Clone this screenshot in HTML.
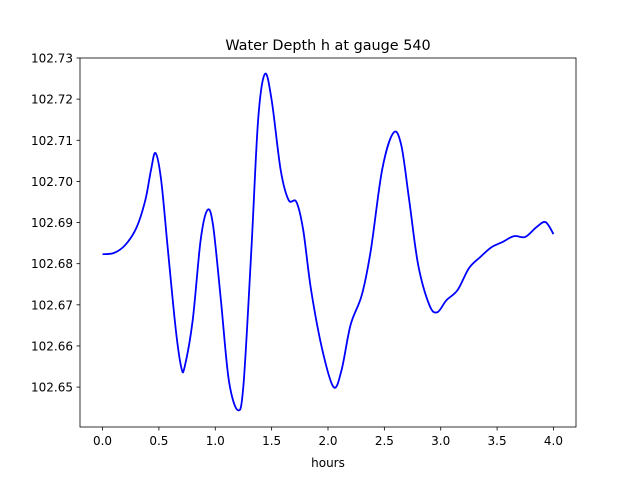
<!DOCTYPE html>
<html><head><meta charset="utf-8"><style>
body{margin:0;background:#fff}
svg text{font-family:"DejaVu Sans","Liberation Sans",sans-serif;fill:#000}
</style></head><body>
<svg id="chart" width="640" height="480" xmlns="http://www.w3.org/2000/svg">
<rect width="640" height="480" fill="#fff"/>
<text x="328" y="50" font-size="14.4" text-anchor="middle">Water Depth h at gauge 540</text>
<g id="ticks"></g>
<path id="series" fill="none" stroke="#0000ff" stroke-width="1.8"/>
<rect x="80" y="58" width="496" height="369" fill="none" stroke="#000" stroke-width="0.8"/>
<text x="328" y="467" font-size="12" text-anchor="middle">hours</text>
</svg>
<script>
const hours=[0,0.1,0.2,0.3,0.38,0.43,0.47,0.52,0.58,0.65,0.7,0.73,0.8,0.87,0.93,0.98,1.05,1.12,1.2,1.25,1.32,1.38,1.44,1.5,1.58,1.65,1.72,1.78,1.85,1.95,2.05,2.12,2.2,2.3,2.38,2.48,2.58,2.65,2.72,2.8,2.9,2.97,3.05,3.15,3.25,3.35,3.45,3.55,3.65,3.75,3.85,3.93,4.0];
const depth=[102.6823,102.6826,102.6845,102.6887,102.6955,102.7028,102.7069,102.7003,102.6833,102.6639,102.6546,102.6551,102.6663,102.6857,102.6930,102.6894,102.6711,102.6517,102.6444,102.6505,102.6833,102.7149,102.7261,102.7198,102.7028,102.6955,102.6950,102.6882,102.6736,102.6590,102.6500,102.6541,102.6651,102.6724,102.6833,102.7028,102.7118,102.7088,102.6955,102.6797,102.6699,102.6682,102.6711,102.6736,102.6789,102.6816,102.6840,102.6853,102.6867,102.6865,102.6889,102.6901,102.6872];
const xTicks=["0.0","0.5","1.0","1.5","2.0","2.5","3.0","3.5","4.0"];
const yTicks=["102.65","102.66","102.67","102.68","102.69","102.70","102.71","102.72","102.73"];
const X=v=>80+(v+0.2)/4.4*496;
const Y=v=>58+(102.73-v)/0.0897*369;
const NS="http://www.w3.org/2000/svg";
const g=document.getElementById('ticks');
function mk(tag,attrs,txt){const e=document.createElementNS(NS,tag);for(const k in attrs)e.setAttribute(k,attrs[k]);if(txt)e.textContent=txt;g.appendChild(e);return e;}
xTicks.forEach(t=>{const x=X(+t);
const l=mk('line',{x1:x,x2:x,y1:427,y2:430.5,stroke:'#000','stroke-width':0.8});


const s=mk('text',{x:x,y:445,'font-size':12,'text-anchor':'middle'},t);

});
yTicks.forEach(t=>{const y=Y(+t);
const l=mk('line',{x1:76.5,x2:80,y1:y,y2:y,stroke:'#000','stroke-width':0.8});


const s=mk('text',{x:73,y:y+4.5,'font-size':12,'text-anchor':'end'},t);

});
const P=hours.map((h,i)=>[X(h),Y(depth[i])]);
let d='M'+P[0][0]+','+P[0][1];
for(let i=0;i<P.length-1;i++){const p0=P[Math.max(0,i-1)],p1=P[i],p2=P[i+1],p3=P[Math.min(P.length-1,i+2)];
d+=' C'+(p1[0]+(p2[0]-p0[0])/6)+','+(p1[1]+(p2[1]-p0[1])/6)+' '+(p2[0]-(p3[0]-p1[0])/6)+','+(p2[1]-(p3[1]-p1[1])/6)+' '+p2[0]+','+p2[1];}
document.getElementById('series').setAttribute('d',d);
</script>
</body></html>
